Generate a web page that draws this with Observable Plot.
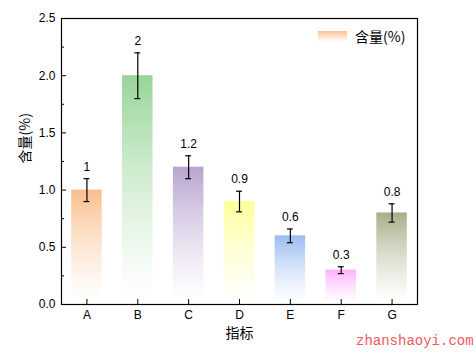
<!DOCTYPE html>
<html><head><meta charset="utf-8">
<script src="https://cdn.jsdelivr.net/npm/d3@7"></script>
<script src="https://cdn.jsdelivr.net/npm/@observablehq/plot@0.6"></script>
<style>
body{margin:0;background:#fff;}
#wrap{position:relative;width:476px;height:358px;}
#wm{position:absolute;left:356px;top:333px;font-family:"Liberation Mono","DejaVu Sans Mono",monospace;font-size:14px;color:#ec5a5a;}
</style></head>
<body><div id="wrap"></div>
<script>
const categories = ["A","B","C","D","E","F","G"];
const values = [1, 2, 1.2, 0.9, 0.6, 0.3, 0.8];
const errors = [0.1, 0.2, 0.1, 0.09, 0.06, 0.03, 0.08];
const colors = ["#f9bf8c","#98d598","#b8a4cf","#ffff99","#9bbcf0","#ffb0ff","#a9ae88"];
const yTicks = [0, 0.5, 1, 1.5, 2, 2.5];
const yMinor = [0.25, 0.75, 1.25, 1.75, 2.25];
const legendLabel = "含量(%)";
const xTitle = "指标";
const yTitle = "含量(%)";

const data = categories.map((c, i) => ({cat: c, v: values[i], e: errors[i], lo: values[i]-errors[i], hi: values[i]+errors[i]}));
const gradIds = categories.map((c, i) => `url(#grad${i})`);
const cjk = "'Noto Sans CJK SC', sans-serif";

const chart = Plot.plot({
  width: 476, height: 358,
  marginLeft: 61, marginRight: 59, marginTop: 18, marginBottom: 54,
  style: {fontFamily: "'Liberation Sans', Arial, sans-serif", fontSize: "12px", color: "#000", background: "#fff"},
  x: {domain: categories, paddingInner: 0.4, paddingOuter: 0.2, round: false},
  y: {domain: [0, 2.5]},
  color: {type: "ordinal", domain: categories, range: gradIds},
  marks: [
    Plot.barY(data, {x: "cat", y: "v", fill: "cat"}),
    Plot.ruleX(data, {x: "cat", y1: "lo", y2: "hi", stroke: "#000", strokeWidth: 1.2}),
    Plot.tickY(data, {x: "cat", y: "hi", stroke: "#000", strokeWidth: 1.2, insetLeft: 12.3, insetRight: 12.3}),
    Plot.tickY(data, {x: "cat", y: "lo", stroke: "#000", strokeWidth: 1.2, insetLeft: 12.3, insetRight: 12.3}),
    Plot.text(data, {x: "cat", y: "hi", text: d => String(d.v), dy: -12, fontSize: 12, fill: "#000"}),
    Plot.frame({stroke: "#000", strokeWidth: 1.2}),
    Plot.axisY({ticks: yTicks, tickSize: -5, tickFormat: () => "", label: null}),
    Plot.axisY({ticks: yMinor, tickSize: -3, tickFormat: () => "", label: null}),
    Plot.axisY({ticks: yTicks, tickSize: 0, tickPadding: 6, tickFormat: d3.format(".1f"), fontSize: 12, label: null}),
    Plot.axisX({tickSize: -5, tickFormat: () => "", label: null}),
    Plot.axisX({tickSize: 0, tickPadding: 6, fontSize: 12, label: null}),
    Plot.text([yTitle], {frameAnchor: "left", dx: -36, dy: 2, rotate: -90, fontSize: 14, fontFamily: cjk, fill: "#000"}),
    Plot.text([xTitle], {frameAnchor: "bottom", dy: 33, fontSize: 14, fontFamily: cjk, fill: "#000"})
  ]
});

const svg = d3.select(chart);
const defs = svg.insert("defs", ":first-child");
colors.forEach((c, i) => {
  const g = defs.append("linearGradient").attr("id", `grad${i}`).attr("x1", 0).attr("y1", 0).attr("x2", 0).attr("y2", 1);
  g.append("stop").attr("offset", "0%").attr("stop-color", c);
  g.append("stop").attr("offset", "97%").attr("stop-color", "#fff").attr("stop-opacity", 0.6);
  g.append("stop").attr("offset", "100%").attr("stop-color", "#fff").attr("stop-opacity", 0);
});
const lg = svg.append("g");
lg.append("rect").attr("x", 318).attr("y", 31).attr("width", 29).attr("height", 12).attr("fill", "url(#grad0)");
lg.append("text").attr("x", 355).attr("y", 42).attr("text-anchor", "start").attr("font-family", cjk).attr("font-size", 14).attr("fill", "#000").text(legendLabel);

const wrap = document.getElementById("wrap");
wrap.appendChild(chart);
const wm = document.createElement("div");
wm.id = "wm"; wm.textContent = "zhanshaoyi.com";
wrap.appendChild(wm);
</script></body></html>
